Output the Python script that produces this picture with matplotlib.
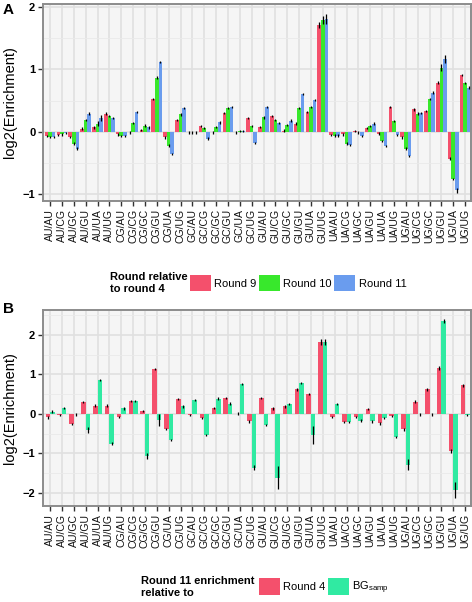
import matplotlib
matplotlib.use("Agg")
import matplotlib.pyplot as plt
import numpy as np
from matplotlib.patches import Patch

plt.rcParams['font.family'] = ['Liberation Sans', 'DejaVu Sans']

categories = ["AU/AU","AU/CG","AU/GC","AU/GU","AU/UA","AU/UG",
              "CG/AU","CG/CG","CG/GC","CG/GU","CG/UA","CG/UG",
              "GC/AU","GC/CG","GC/GC","GC/GU","GC/UA","GC/UG",
              "GU/AU","GU/CG","GU/GC","GU/GU","GU/UA","GU/UG",
              "UA/AU","UA/CG","UA/GC","UA/GU","UA/UA","UA/UG",
              "UG/AU","UG/CG","UG/GC","UG/GU","UG/UA","UG/UG"]

# Panel A: enrichment relative to round 4
round9 = [-0.07,-0.05,-0.08,0.05,0.07,0.29, -0.04,-0.01,0.03,0.53,-0.09,0.19,
          -0.01,0.09,-0.01,0.30,-0.01,0.22, 0.08,0.25,0.02,0.13,0.32,1.71,
          -0.05,-0.04,0.01,0.06,-0.03,0.40, -0.09,0.36,0.33,0.79,-0.43,0.91]
round10 = [-0.085,-0.04,-0.19,0.19,0.13,0.25, -0.07,0.14,0.10,0.87,-0.22,0.28,
           -0.01,0.06,0.08,0.38,0.01,0.09, 0.23,0.19,0.11,0.38,0.40,1.79,
           -0.06,-0.19,-0.01,0.09,-0.15,0.17, -0.27,0.29,0.53,1.03,-0.76,0.78]
round11 = [-0.08,-0.02,-0.27,0.29,0.22,0.22, -0.07,0.32,0.07,1.12,-0.36,0.38,
           -0.01,-0.11,0.15,0.40,0.01,-0.18, 0.40,0.14,0.18,0.61,0.51,1.81,
           -0.06,-0.21,-0.07,0.13,-0.23,-0.05, -0.39,0.30,0.63,1.17,-0.94,0.71]
err9 = [0.02]*36
err10 = [0.02]*36
err11 = [0.02]*36
for i, e in [(4,0.03),(23,0.05),(34,0.03)]: err9[i] = e
for i, e in [(4,0.04),(23,0.06),(33,0.05)]: err10[i] = e
for i, e in [(4,0.05),(23,0.08),(33,0.06),(34,0.04)]: err11[i] = e

# Panel B: round 11 enrichment relative to round 4 / BG_samp
rel_round4 = [-0.09,-0.02,-0.26,0.30,0.21,0.21, -0.07,0.33,0.08,1.14,-0.38,0.37,
              -0.02,-0.11,0.15,0.40,0.01,-0.19, 0.40,0.14,0.19,0.62,0.51,1.82,
              -0.07,-0.21,-0.07,0.13,-0.24,-0.05, -0.39,0.31,0.62,1.16,-0.94,0.72]
rel_bg = [0.06,0.15,-0.01,-0.41,0.86,-0.75, 0.14,0.33,-1.06,-0.15,-0.66,0.19,
          0.36,-0.53,0.39,0.26,0.75,-1.36, -0.28,-1.61,0.25,0.78,-0.53,1.82,
          0.25,-0.21,-0.17,-0.19,-0.11,-0.59, -1.28,-0.01,-0.01,2.36,-1.92,-0.02]
err_r4 = [0.03]*36
for i, e in [(23,0.08),(33,0.06),(34,0.04)]: err_r4[i] = e
err_bg = [0.03]*36
for i, e in [(3,0.07),(8,0.08),(9,0.15),(17,0.07),(19,0.28),(22,0.22),
             (23,0.08),(30,0.14),(33,0.05),(34,0.2)]: err_bg[i] = e

c_red = "#F4506C"
c_green = "#38E82C"
c_blue = "#6A9CEE"
c_teal = "#30EAA2"

W, H = 472, 602
fig = plt.figure(figsize=(W/100, H/100), dpi=100)

def style_ax(ax, ylim, yticks, yminor):
    ax.set_facecolor("#F5F5F5")
    ax.set_xlim(-0.6, 35.5)
    ax.set_ylim(*ylim)
    ax.set_yticks(yticks)
    ax.set_yticks(yminor, minor=True)
    ax.set_yticklabels([str(t).replace('-', '\u2212') for t in yticks],
                       fontsize=8, fontweight='bold')
    ax.set_xticks(np.arange(len(categories)))
    ax.set_xticklabels(categories, rotation=90, fontsize=7.6, color='#111111')
    ax.grid(True, which='major', color='#E0E0E0', lw=1.2, zorder=0)
    ax.grid(True, which='minor', axis='y', color='#EAEAEA', lw=0.6, zorder=0)
    ax.set_axisbelow(True)
    ax.tick_params(axis='both', which='major', length=3.5, width=1, color='#333333', pad=2)
    ax.tick_params(axis='y', which='minor', length=0)
    for s in ax.spines.values():
        s.set_color('#8C8C8C')
        s.set_linewidth(1.4)
    ax.set_ylabel("log2(Enrichment)", fontsize=10.5, labelpad=4)

x = np.arange(len(categories))

# Panel A
axA = fig.add_axes([43/W, 1-201/H, 428/W, 197/H])
bw = 0.3
for k, (vals, errs, col) in enumerate([(round9, err9, c_red), (round10, err10, c_green), (round11, err11, c_blue)]):
    xs = x + (k-1)*bw
    axA.bar(xs, vals, width=bw, color=col, zorder=2, linewidth=0)
    axA.errorbar(xs, vals, yerr=errs, fmt='none', ecolor='black', elinewidth=0.9, capsize=0, zorder=3)
style_ax(axA, (-1.11, 2.05), [-1, 0, 1, 2], [-0.5, 0.5, 1.5])
fig.text(3/W, 1-10/H, "A", fontsize=11, fontweight='bold', va='center', ha='left')

# Panel B
axB = fig.add_axes([43/W, 1-506/H, 428/W, 196/H])
bw2 = 0.38
for k, (vals, errs, col) in enumerate([(rel_round4, err_r4, c_red), (rel_bg, err_bg, c_teal)]):
    xs = x + (k-0.5)*bw2
    axB.bar(xs, vals, width=bw2, color=col, zorder=2, linewidth=0)
    axB.errorbar(xs, vals, yerr=errs, fmt='none', ecolor='black', elinewidth=0.9, capsize=0, zorder=3)
style_ax(axB, (-2.33, 2.63), [-2, -1, 0, 1, 2], [-1.5, -0.5, 0.5, 1.5, 2.5])
fig.text(3/W, 1-309/H, "B", fontsize=11, fontweight='bold', va='center', ha='left')

# Legend A
fig.text(110/W, 1-283/H, "Round relative\nto round 4", fontsize=8, fontweight='bold',
         va='center', ha='left', linespacing=1.15)
hA = [Patch(facecolor=c_red), Patch(facecolor=c_green), Patch(facecolor=c_blue)]
fig.legend(hA, ["Round 9", "Round 10", "Round 11"], ncol=3, loc='center left',
           bbox_to_anchor=(190/W, 1-283/H), frameon=False, fontsize=8,
           handlelength=1.9, handleheight=1.9, handletextpad=0.3, columnspacing=0.2,
           borderaxespad=0, borderpad=0)

# Legend B
fig.text(141/W, 1-587/H, "Round 11 enrichment\nrelative to", fontsize=8, fontweight='bold',
         va='center', ha='left', linespacing=1.15)
hB = [Patch(facecolor=c_red), Patch(facecolor=c_teal)]
fig.legend(hB, ["Round 4", r"BG$_{\mathregular{samp}}$"], ncol=2, loc='center left',
           bbox_to_anchor=(259/W, 1-587/H), frameon=False, fontsize=8,
           handlelength=1.9, handleheight=1.9, handletextpad=0.3, columnspacing=0.2,
           borderaxespad=0, borderpad=0)

fig.savefig("out.png", dpi=100)
